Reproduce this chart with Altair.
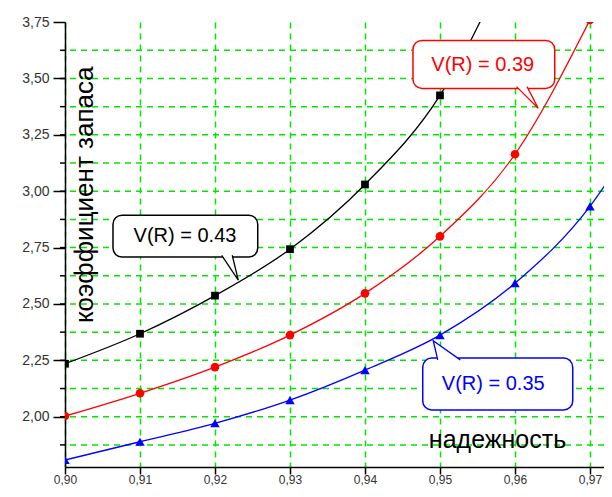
import altair as alt
import pandas as pd

# ---- data ----
reliability = [0.90, 0.91, 0.92, 0.93, 0.94, 0.95, 0.96, 0.97, 0.98]
k_043 = [2.235, 2.368, 2.537, 2.743, 3.030, 3.425, 4.08, None, None]
k_039 = [2.003, 2.104, 2.220, 2.362, 2.547, 2.800, 3.164, 3.760, None]
k_035 = [1.808, 1.889, 1.971, 2.074, 2.207, 2.362, 2.592, 2.933, 3.47]

series_labels = ["V(R) = 0.43", "V(R) = 0.39", "V(R) = 0.35"]
series_colors = ["#000000", "#ff0000", "#0000ff"]
series_shapes = ["square", "circle", "triangle-up"]
series_sizes = [60, 75, 90]

x_ticks = [0.900, 0.905, 0.910, 0.915, 0.920, 0.925, 0.930, 0.935, 0.940,
           0.945, 0.950, 0.955, 0.960, 0.965, 0.970]
y_major = [2.00, 2.25, 2.50, 2.75, 3.00, 3.25, 3.50, 3.75]
y_grid = [1.875, 2.000, 2.125, 2.250, 2.375, 2.500, 2.625, 2.750, 2.875,
          3.000, 3.125, 3.250, 3.375, 3.500, 3.625]
x_domain = [0.90, 0.97187]
y_domain = [1.777, 3.7505]

x_title = "надежность"
y_title = "коэффициент запаса"

# callout boxes (data units)
box_x1 = [0.9064, 0.9464, 0.9477]
box_x2 = [0.9257, 0.9653, 0.9677]
box_y1 = [2.708, 3.456, 2.030]
box_y2 = [2.894, 3.669, 2.260]
text_x = [0.9160, 0.9557, 0.9571]
text_y = [2.800, 3.560, 2.146]
# callout tails: base-left, tip, base-right
tail_x = [[0.9209, 0.9231, 0.9223], [0.9602, 0.9631, 0.9616], [0.9497, 0.9491, 0.9527]]
tail_y = [[2.716, 2.606, 2.716], [3.464, 3.368, 3.464], [2.252, 2.337, 2.252]]

title_x = [0.95767, 0.90373]
title_y = [1.861, 2.984]

FONT = "Liberation Sans"
GREEN = "#00e600"

rows = []
for lab, vals in zip(series_labels, [k_043, k_039, k_035]):
    for r, v in zip(reliability, vals):
        if v is not None:
            rows.append({"r": r, "k": v, "series": lab})
df = pd.DataFrame(rows)

major_x = "abs(datum.value*100 - round(datum.value*100)) < 0.001"

x_axis = alt.Axis(
    values=x_ticks, title=None, grid=True, gridColor=GREEN, gridDash=[6, 5], gridWidth=1.5,
    labelExpr=f"({major_x}) ? replace(format(datum.value, '.2f'), '.', ',') : ''",
    tickSize=7,
    tickDash={"condition": {"test": major_x, "value": [30, 0]}, "value": [4, 30]},
    tickColor="black", tickWidth=1.5, domainColor="black", domainWidth=1.5,
    labelFont=FONT, labelFontSize=12, labelColor="#333333", labelPadding=0,
    labelOverlap=False, labelFlush=False, labelBound=False,
)
y_axis = alt.Axis(
    values=y_major, title=None, grid=False, format=".2f",
    tickSize=12, tickColor="black", tickWidth=1.5, domainColor="black", domainWidth=1.5,
    labelFont=FONT, labelFontSize=14, labelColor="#333333", labelPadding=4,
    labelOverlap=False, labelFlush=False, labelBound=False,
)

xs = alt.Scale(domain=x_domain, nice=False, zero=False)
ys = alt.Scale(domain=y_domain, nice=False, zero=False)
cscale = alt.Scale(domain=series_labels, range=series_colors)

grid_df = pd.DataFrame({"g": y_grid})
hgrid = alt.Chart(grid_df).mark_rule(color=GREEN, strokeDash=[6, 5], strokeWidth=1.5).encode(
    y=alt.Y("g:Q", scale=ys, axis=y_axis))
minor_ticks = alt.Chart(grid_df).mark_rule(color="black", strokeWidth=1.5).encode(
    y="g:Q", x=alt.value(-5), x2=alt.value(0))

base = alt.Chart(df)
lines = base.mark_line(interpolate="monotone", clip=True, strokeWidth=1.3).encode(
    x=alt.X("r:Q", scale=xs, axis=x_axis),
    y=alt.Y("k:Q", scale=ys, axis=y_axis),
    color=alt.Color("series:N", scale=cscale, legend=None),
)

point_layers = []
for lab, col, shp, sz in zip(series_labels, series_colors, series_shapes, series_sizes):
    point_layers.append(
        alt.Chart(df[df.series == lab]).mark_point(
            filled=True, clip=True, opacity=1, shape=shp, size=sz, color=col
        ).encode(x="r:Q", y="k:Q")
    )

boxes_df = pd.DataFrame({"label": series_labels, "x1": box_x1, "x2": box_x2,
                         "y1": box_y1, "y2": box_y2, "tx": text_x, "ty": text_y})
boxes = alt.Chart(boxes_df).mark_rect(fill="white", strokeWidth=1.5, cornerRadius=9).encode(
    x="x1:Q", x2="x2", y="y1:Q", y2="y2",
    stroke=alt.Stroke("label:N", scale=cscale, legend=None),
)

trows = []
for lab, txs, tys in zip(series_labels, tail_x, tail_y):
    for i, (a, b) in enumerate(zip(txs, tys)):
        trows.append({"label": lab, "o": i, "x": a, "y": b})
tails = alt.Chart(pd.DataFrame(trows)).mark_line(fill="white", strokeWidth=1.3).encode(
    x="x:Q", y="y:Q", order="o:Q", detail="label:N",
    stroke=alt.Stroke("label:N", scale=cscale, legend=None),
)

texts = alt.Chart(boxes_df).mark_text(font=FONT, fontSize=20, baseline="middle", align="center").encode(
    x="tx:Q", y="ty:Q", text="label:N",
    color=alt.Color("label:N", scale=cscale, legend=None),
)

titles_df = pd.DataFrame({"t": [x_title, y_title], "x": title_x, "y": title_y})
xt = alt.Chart(titles_df.iloc[[0]]).mark_text(font=FONT, fontSize=25, baseline="alphabetic",
                                              align="center", color="black").encode(
    x="x:Q", y="y:Q", text="t:N")
yt = alt.Chart(titles_df.iloc[[1]]).mark_text(font=FONT, fontSize=26, baseline="alphabetic",
                                              align="center", angle=270, color="black").encode(
    x="x:Q", y="y:Q", text="t:N")

chart = alt.layer(hgrid, minor_ticks, lines, *point_layers, boxes, tails, texts, xt, yt).properties(
    width=539, height=445,
    padding={"left": 57, "top": 14, "right": 0, "bottom": 19},
    autosize=alt.AutoSizeParams(type="none"),
    background="white",
).configure(
    locale={"number": {"decimal": ",", "thousands": " ", "grouping": [3], "currency": ["", ""]}}
).configure_view(stroke=None)

chart.save("out.html", embed_options={"renderer": "svg", "actions": False})
